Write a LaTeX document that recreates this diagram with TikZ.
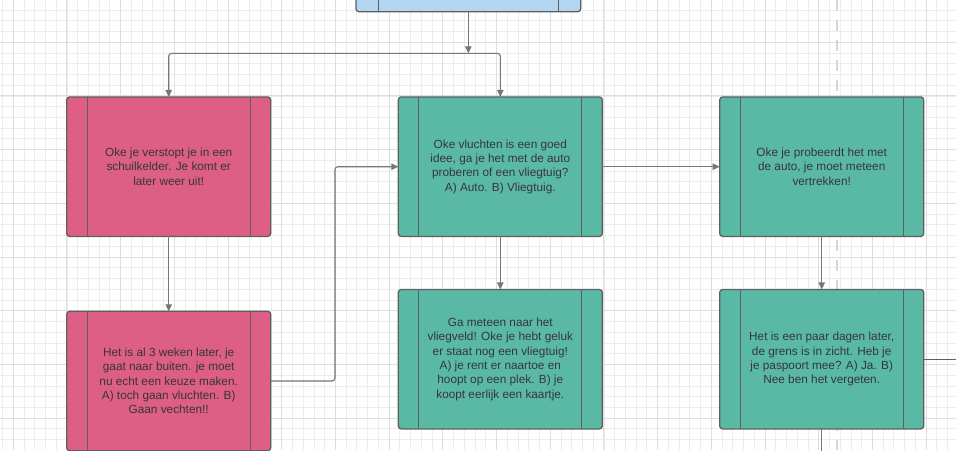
\documentclass[tikz,border=0pt]{standalone}
\usepackage{fontspec}
\setmainfont{Liberation Sans}
\usepackage{xcolor}
\usetikzlibrary{arrows.meta}

\definecolor{pinkbox}{HTML}{DE5F85}
\definecolor{greenbox}{HTML}{5AB9A5}
\definecolor{bluebox}{HTML}{B2D5F0}
\definecolor{edgegray}{HTML}{5F5F5F}
\definecolor{linkgray}{HTML}{767676}
\definecolor{gridminor}{HTML}{EDEDED}
\definecolor{gridmajor}{HTML}{DEDEDE}
\definecolor{lanegray}{HTML}{D6D6D6}
\definecolor{textgray}{HTML}{363636}

\tikzset{
  card/.style={draw=edgegray, line width=1.3pt, rounded corners=3pt, outer sep=0pt,
    minimum width=204pt, minimum height=139.5pt, inner sep=0pt, align=center,
    font=\fontsize{11.8}{14.3}\selectfont, text=textgray},
  hidecard/.style={card, fill=pinkbox},
  flowcard/.style={card, fill=greenbox},
  stripe/.style={draw=edgegray, line width=1.1pt},
  link/.style={draw=linkgray, line width=1.1pt, rounded corners=3pt},
  tip/.style={-{Triangle[length=7pt,width=6.5pt]}},
}

\begin{document}
\begin{tikzpicture}[x=1pt, y=-1pt]
    \useasboundingbox (0,0) rectangle (956,450);
    \fill[white] (0,0) rectangle (956,450);

    % grid
    \foreach \i in {0,...,88}
        \draw[gridminor, line width=0.8pt] ({2.46+10.74*\i},0) -- ({2.46+10.74*\i},450);
    \foreach \j in {0,...,40}
        \draw[gridminor, line width=0.8pt] (0,{10+10.74*\j}) -- (956,{10+10.74*\j});
    \foreach \i in {0,...,17}
        \draw[gridmajor, line width=1pt] ({13.2+53.7*\i},0) -- ({13.2+53.7*\i},450);
    \foreach \j in {1,...,8}
        \draw[gridmajor, line width=1pt] (0,{-11.5+53.7*\j}) -- (956,{-11.5+53.7*\j});

    % lane divider
    \draw[lanegray, line width=2.5pt, dash pattern=on 11pt off 9pt] (837,0) -- (837,450);

    % boxes
    \node[card, fill=bluebox, minimum width=224.7pt] (start) at (468.3,-58) {};
    \node[hidecard] (hide) at (168.7,166.7) {Oke je verstopt je in een\\schuilkelder. Je komt er\\later weer uit!};
    \node[hidecard] (later) at (168.7,381) {Het is al 3 weken later, je\\gaat naar buiten. je moet\\nu echt een keuze maken.\\A) toch gaan vluchten. B)\\Gaan vechten!!};
    \node[flowcard] (flee) at (500.3,166.7) {Oke vluchten is een goed\\idee, ga je het met de auto\\proberen of een vliegtuig?\\A) Auto. B) Vliegtuig.};
    \node[flowcard] (airport) at (500.3,359.2) {Ga meteen naar het\\vliegveld! Oke je hebt geluk\\er staat nog een vliegtuig!\\A) je rent er naartoe en\\hoopt op een plek. B) je\\koopt eerlijk een kaartje.};
    \node[flowcard] (car) at (821.7,166.7) {Oke je probeerdt het met\\de auto, je moet meteen\\vertrekken!};
    \node[flowcard] (border) at (821.7,359.2) {Het is een paar dagen later,\\de grens is in zicht. Heb je\\je paspoort mee? A) Ja. B)\\Nee ben het vergeten.};

    % side stripes
    \draw[stripe] ([xshift=22.3pt]start.north west) -- ([xshift=22.3pt]start.south west)
        ([xshift=-22.3pt]start.north east) -- ([xshift=-22.3pt]start.south east);
    \foreach \b in {hide,later,flee,airport,car,border}
        \draw[stripe] ([xshift=20.6pt]\b.north west) -- ([xshift=20.6pt]\b.south west)
            ([xshift=-20.6pt]\b.north east) -- ([xshift=-20.6pt]\b.south east);

    % connectors
    \coordinate (fork) at (468.3,53.3);
    \coordinate (offright) at (960,359.2);
    \coordinate (offdown) at (821.7,456);
    \draw[link, tip] (start.south) -- (fork);
    \draw[link, tip] (fork) -| (hide.north);
    \draw[link, tip] (fork) -| (flee.north);
    \draw[link, tip] (hide.south) -- (later.north);
    \draw[link, tip] (later.east) -- ++(64.3,0) |- (flee.west);
    \draw[link, tip] (flee.east) -- (car.west);
    \draw[link, tip] (flee.south) -- (airport.north);
    \draw[link, tip] (car.south) -- (border.north);
    \draw[link, draw=edgegray] (border.east) -- (offright);
    \draw[link] (border.south) -- (offdown);
\end{tikzpicture}
\end{document}
